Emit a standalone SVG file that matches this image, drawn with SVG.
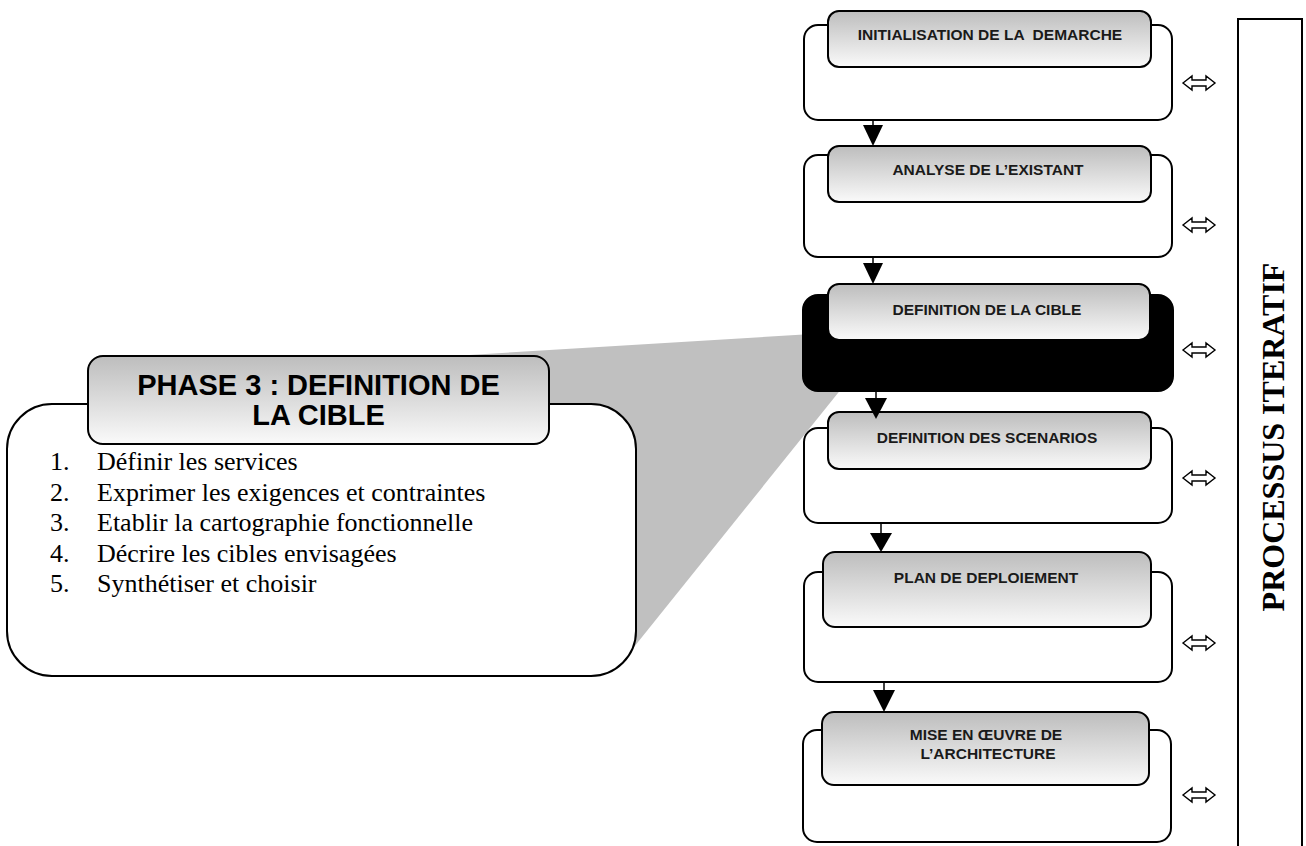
<svg xmlns="http://www.w3.org/2000/svg" xmlns:xlink="http://www.w3.org/1999/xlink" width="1306" height="846" viewBox="0 0 1306 846">
  <style>
    .outer { fill: #ffffff; stroke: #000000; stroke-width: 2; }
    .outer-dark { fill: #000000; stroke: #000000; stroke-width: 2; }
    .inner { fill: url(#shade); stroke: #000000; stroke-width: 2; }
    .label { font-family: "Liberation Sans", Arial, sans-serif; font-weight: bold; font-size: 15.5px; fill: #1a1a1a; text-anchor: middle; }
    .head { font-family: "Liberation Sans", Arial, sans-serif; font-weight: bold; font-size: 29px; fill: #000000; text-anchor: middle; }
    .item { font-family: "Liberation Serif", "Times New Roman", serif; font-size: 26px; fill: #000000; }
    .side { font-family: "Liberation Serif", "Times New Roman", serif; font-weight: bold; font-size: 32px; fill: #000000; text-anchor: middle; }
    .link { stroke: #000000; stroke-width: 1.5; fill: none; }
    .tip { fill: #000000; stroke: none; }
    .dbl { fill: #ffffff; stroke: #000000; stroke-width: 1.4; stroke-linejoin: miter; }
  </style>
  <defs>
    <linearGradient id="shade" x1="0" y1="0" x2="0" y2="1">
      <stop offset="0" stop-color="#bdbdbd"/>
      <stop offset="1" stop-color="#fafafa"/>
    </linearGradient>
    <!-- hollow double-headed arrow, centred on y = 0 -->
    <path id="dbl" class="dbl" d="M1183,0 L1192,-7 L1192,-3 L1206,-3 L1206,-7 L1215,0 L1206,7 L1206,3 L1192,3 L1192,7 Z"/>
  </defs>

  <rect width="1306" height="846" fill="#ffffff"/>

  <!-- zoom wedge linking the detailed phase to its step -->
  <polygon id="zoom-wedge" points="420,358 812,334 842,388 630,652 420,652" fill="#c0c0c0"/>

  <!-- detail callout -->
  <g id="phase3-detail">
    <rect class="outer" x="7" y="404" width="629" height="272" rx="45" ry="45"/>
    <rect class="inner" x="88" y="356" width="461" height="88" rx="15" ry="15"/>
    <text class="head" x="318.5" y="395">PHASE 3 : DEFINITION DE</text>
    <text class="head" x="318.5" y="425">LA CIBLE</text>
    <g class="item">
      <text x="50" y="470">1.</text><text x="97" y="470">Définir les services</text>
      <text x="50" y="501">2.</text><text x="97" y="501">Exprimer les exigences et contraintes</text>
      <text x="50" y="531">3.</text><text x="97" y="531">Etablir la cartographie fonctionnelle</text>
      <text x="50" y="562">4.</text><text x="97" y="562">Décrire les cibles envisagées</text>
      <text x="50" y="592">5.</text><text x="97" y="592">Synthétiser et choisir</text>
    </g>
  </g>

  <!-- process steps -->
  <g id="step-initialisation">
    <rect class="outer" x="804" y="25" width="368" height="95" rx="14" ry="14"/>
    <rect class="inner" x="828" y="11" width="323" height="56" rx="11" ry="11"/>
    <text class="label" x="990" y="40" xml:space="preserve">INITIALISATION DE LA  DEMARCHE</text>
  </g>
  <g id="step-analyse">
    <rect class="outer" x="804" y="155" width="368" height="102" rx="14" ry="14"/>
    <rect class="inner" x="828" y="146" width="323" height="56" rx="11" ry="11"/>
    <text class="label" x="988" y="175">ANALYSE DE L’EXISTANT</text>
  </g>
  <g id="step-cible">
    <rect class="outer-dark" x="803" y="295" width="370" height="96" rx="15" ry="15"/>
    <rect class="inner" x="828" y="284" width="322" height="56" rx="11" ry="11"/>
    <text class="label" x="987" y="315">DEFINITION DE LA CIBLE</text>
  </g>
  <g id="step-scenarios">
    <rect class="outer" x="804" y="428" width="368" height="95" rx="14" ry="14"/>
    <rect class="inner" x="828" y="412" width="323" height="57" rx="11" ry="11"/>
    <text class="label" x="987" y="443">DEFINITION DES SCENARIOS</text>
  </g>
  <g id="step-deploiement">
    <rect class="outer" x="804" y="572" width="368" height="110" rx="14" ry="14"/>
    <rect class="inner" x="823" y="552" width="328" height="75" rx="12" ry="12"/>
    <text class="label" x="986" y="583">PLAN DE DEPLOIEMENT</text>
  </g>
  <g id="step-architecture">
    <rect class="outer" x="803" y="730" width="368" height="112" rx="14" ry="14"/>
    <rect class="inner" x="822" y="712" width="327" height="73" rx="12" ry="12"/>
    <text class="label" x="986" y="740">MISE EN ŒUVRE DE</text>
    <text class="label" x="988" y="759">L’ARCHITECTURE</text>
  </g>

  <!-- iterative process bar -->
  <g id="iterative-process">
    <rect x="1238" y="19" width="64" height="840" fill="#ffffff" stroke="#000000" stroke-width="2"/>
    <text class="side" transform="translate(1284,437) rotate(-90)">PROCESSUS ITERATIF</text>
  </g>

  <!-- connectors -->
  <g id="connectors">
    <line class="link" x1="873" y1="120" x2="873" y2="126"/>
    <polygon class="tip" points="863,125 883,125 873,146"/>
    <line class="link" x1="873" y1="257" x2="873" y2="264"/>
    <polygon class="tip" points="863,263 883,263 873,284"/>
    <line class="link" x1="876" y1="391" x2="876" y2="399"/>
    <polygon class="tip" points="865,398 887,398 876,419"/>
    <line class="link" x1="881" y1="523" x2="881" y2="534"/>
    <polygon class="tip" points="870,533 892,533 881,552"/>
    <line class="link" x1="884" y1="682" x2="884" y2="691"/>
    <polygon class="tip" points="873,690 895,690 884,712"/>

    <use xlink:href="#dbl" href="#dbl" y="83"/>
    <use xlink:href="#dbl" href="#dbl" y="225"/>
    <use xlink:href="#dbl" href="#dbl" y="350"/>
    <use xlink:href="#dbl" href="#dbl" y="478"/>
    <use xlink:href="#dbl" href="#dbl" y="643"/>
    <use xlink:href="#dbl" href="#dbl" y="795"/>
  </g>
</svg>
